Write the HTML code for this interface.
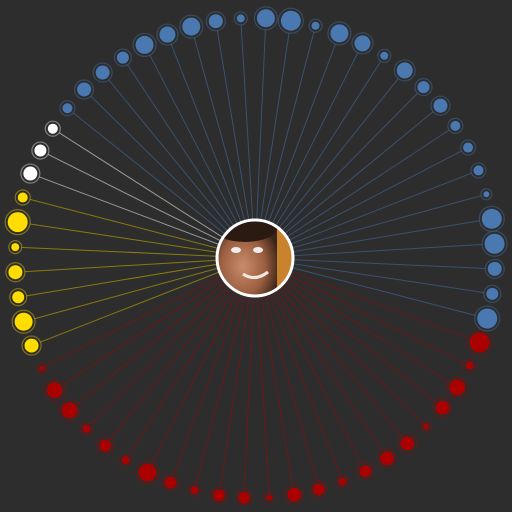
<!DOCTYPE html>
<html><head><meta charset="utf-8"><style>
html,body{margin:0;padding:0;background:#2d2d2d;width:512px;height:512px;overflow:hidden;font-family:"Liberation Sans",sans-serif}
</style></head><body>
<svg id="chart" width="512" height="512" viewBox="0 0 512 512" xmlns="http://www.w3.org/2000/svg">
<defs>
<radialGradient id="skin" cx="0.45" cy="0.6" r="0.6"><stop offset="0" stop-color="#c98d6c"/><stop offset="0.6" stop-color="#9a5e40"/><stop offset="1" stop-color="#3a2418"/></radialGradient>
<clipPath id="cp"><circle cx="255" cy="258" r="38"/></clipPath>
</defs>
<rect width="512" height="512" fill="#2d2d2d"/>
<g id="links"></g>
<g id="nodes"></g>
<g>
<g clip-path="url(#cp)">
<rect x="215" y="218" width="80" height="80" fill="#c9822d"/>
<rect x="215" y="218" width="62" height="80" fill="url(#skin)"/>
<ellipse cx="245" cy="228" rx="32" ry="14" fill="#2a1a12"/>
<ellipse cx="236" cy="250" rx="5" ry="3" fill="#eee"/>
<ellipse cx="258" cy="250" rx="5" ry="3" fill="#eee"/>
<path d="M243 274 Q255 282 268 272" stroke="#f2e8e0" stroke-width="3" fill="none"/>
</g>
<circle cx="255" cy="258" r="38" fill="none" stroke="#ffffff" stroke-width="3"/>
</g>
</svg>
<script>
const groups = ['red','yellow','white','blue'];
const groupCounts = [23,7,3,27];
const nodeSizes = [10,4,8,7,3,7,7,6,4,6,7,3,6,6,4,6,9,4,6,4,8,8,3,
 7,9,6,7,4,10,5,
 7,6,5,
 5,7,7,6,9,8,9,7,4,9,10,4,9,8,4,8,6,7,5,5,5,3,10,10,7,6,10];
const startAngle = 20.6, stepAngle = 6, ringR = 240, cx = 255, cy = 258;
const fills = {red:'#aa0000',yellow:'#ffdd00',white:'#ffffff',blue:'#4a78b0'};
const lineCols = {red:'#6a1818',yellow:'#8a7a10',white:'#9a9a9a',blue:'#3a5270'};
const NS='http://www.w3.org/2000/svg';
const L=document.getElementById('links'), N=document.getElementById('nodes');
let idx=0;
groups.forEach((g,gi)=>{
  for(let k=0;k<groupCounts[gi];k++){
    const a=(startAngle+idx*stepAngle)*Math.PI/180;
    const x=cx+ringR*Math.cos(a), y=cy+ringR*Math.sin(a), r=nodeSizes[idx];
    const ln=document.createElementNS(NS,'line');
    
    
    ln.setAttribute('x1',cx);ln.setAttribute('y1',cy);ln.setAttribute('x2',x);ln.setAttribute('y2',y);
    ln.setAttribute('stroke',lineCols[g]);ln.setAttribute('stroke-width','1');
    L.appendChild(ln);
    const halo=document.createElementNS(NS,'circle');
    
    
    halo.setAttribute('cx',x);halo.setAttribute('cy',y);halo.setAttribute('r',r+2.5);
    halo.setAttribute('fill','#2d2d2d');halo.setAttribute('stroke',fills[g]);halo.setAttribute('stroke-opacity','0.4');halo.setAttribute('stroke-width','1.2');
    N.appendChild(halo);
    const c=document.createElementNS(NS,'circle');
    
    
    c.setAttribute('cx',x);c.setAttribute('cy',y);c.setAttribute('r',r);c.setAttribute('fill',fills[g]);
    N.appendChild(c);
    idx++;
  }
});
</script>
</body></html>
